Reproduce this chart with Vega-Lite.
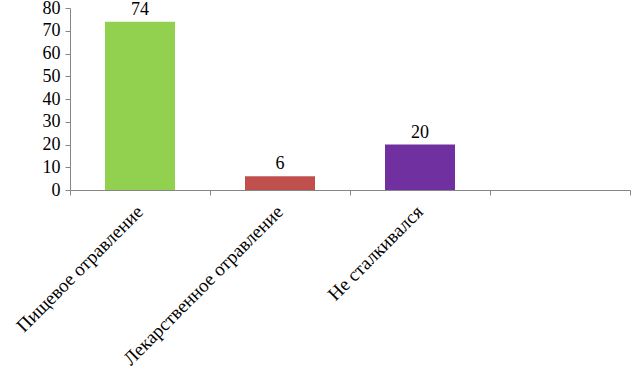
{
  "$schema": "https://vega.github.io/schema/vega-lite/v6.json",
  "width": 560,
  "height": 182,
  "autosize": "none",
  "padding": {"left": 70, "top": 8, "right": 12, "bottom": 194},
  "background": "white",
  "config": {"view": {"stroke": null}, "font": "Liberation Serif"},
  "data": {"values": [
    {"cat": "Пищевое отравление", "value": 74, "color": "#92D050"},
    {"cat": "Лекарственное отравление", "value": 6, "color": "#C0504D"},
    {"cat": "Не сталкивался", "value": 20, "color": "#7030A0"}
  ]},
  "encoding": {
    "x": {
      "field": "cat", "type": "nominal", "sort": null,
      "scale": {"domain": ["Пищевое отравление", "Лекарственное отравление", "Не сталкивался", " "], "paddingInner": 0, "paddingOuter": 0},
      "axis": {
        "title": null, "labelAngle": -45, "labelAlign": "right", "labelBaseline": "top",
        "labelFont": "Liberation Serif", "labelFontSize": 19, "labelColor": "#000000",
        "tickBand": "extent", "tickSize": 5, "tickColor": "#868686", "domainColor": "#868686",
        "labelPadding": 7, "labelOffset": -7, "labelOverlap": false, "labelLimit": 400
      }
    },
    "y": {
      "field": "value", "type": "quantitative",
      "scale": {"domain": [0, 80], "nice": false},
      "axis": {
        "title": null, "values": [0, 10, 20, 30, 40, 50, 60, 70, 80], "grid": false,
        "labelFont": "Liberation Serif", "labelFontSize": 18, "labelColor": "#000000",
        "tickSize": 5, "tickColor": "#868686", "domainColor": "#868686", "labelPadding": 5
      }
    }
  },
  "layer": [
    {"mark": {"type": "bar", "width": {"band": 0.5}}, "encoding": {"color": {"field": "color", "type": "nominal", "scale": null}}},
    {"mark": {"type": "text", "baseline": "alphabetic", "dy": -7, "fontSize": 18, "font": "Liberation Serif", "color": "#000000"}, "encoding": {"text": {"field": "value", "type": "quantitative"}}}
  ]
}
